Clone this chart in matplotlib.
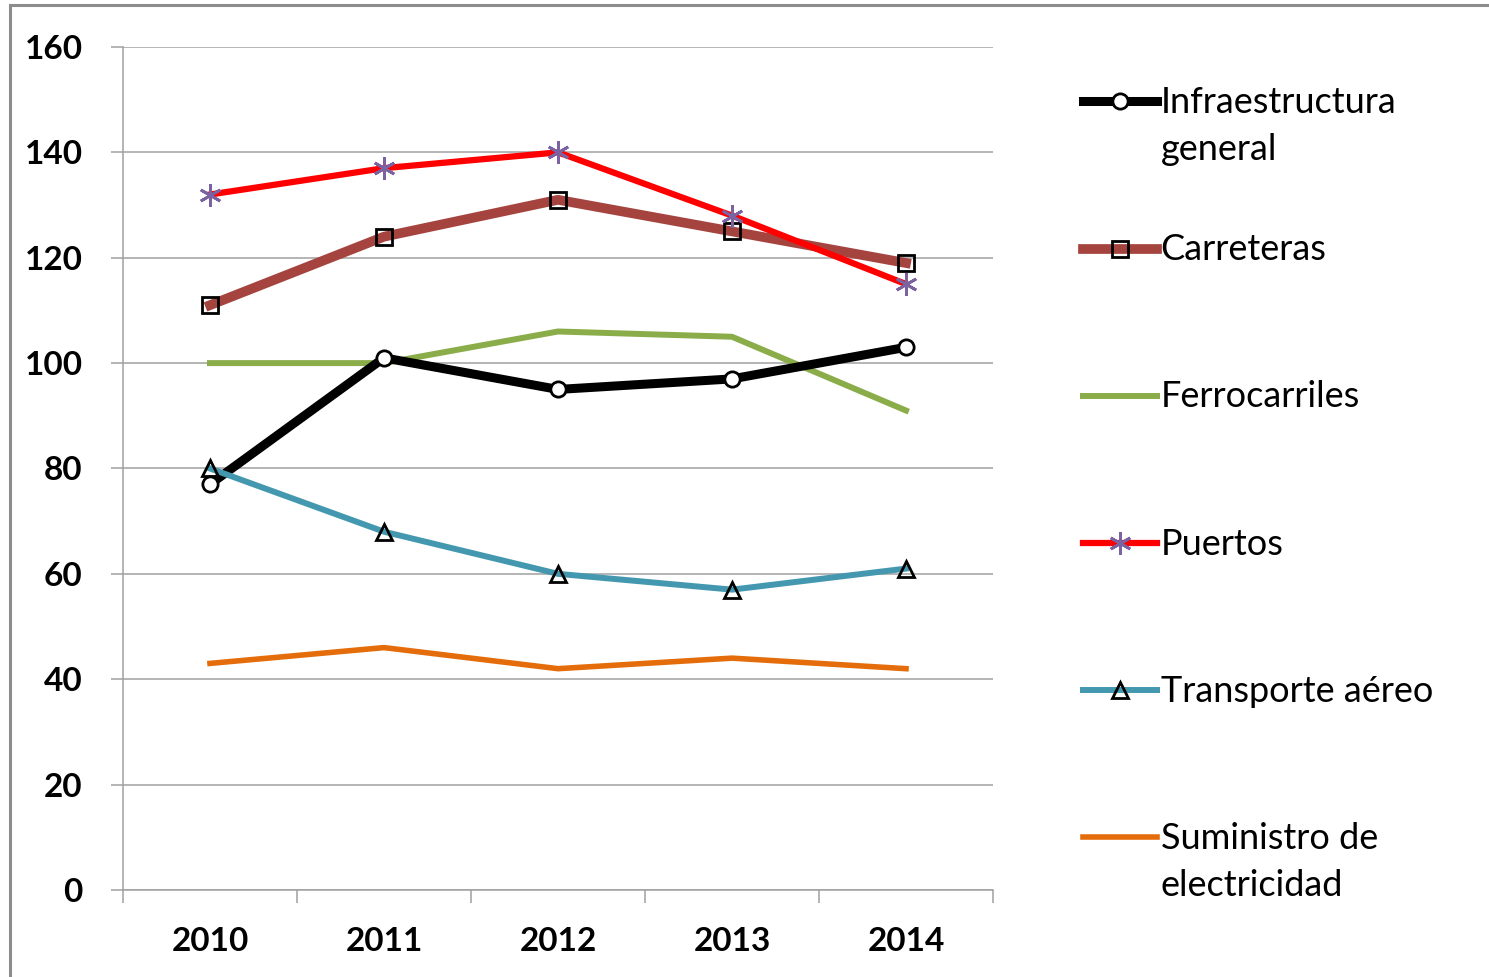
import matplotlib
matplotlib.use("Agg")
import matplotlib.pyplot as plt
from matplotlib.patches import Rectangle

# datos
years = ["2010", "2011", "2012", "2013", "2014"]
infraestructura = [77, 101, 95, 97, 103]
carreteras = [111, 124, 131, 125, 119]
ferrocarriles = [100, 100, 106, 105, 91]
puertos = [132, 137, 140, 128, 115]
transporte_aereo = [80, 68, 60, 57, 61]
suministro = [43, 46, 42, 44, 42]
yticks = [0, 20, 40, 60, 80, 100, 120, 140, 160]

plt.rcParams['font.family'] = ['Lato', 'DejaVu Sans']

fig = plt.figure(figsize=(14.89, 9.77), dpi=100)
ax = fig.add_axes([0.0826, 0.0891, 0.5843, 0.8628])
x = range(len(years))

ax.plot(x, infraestructura, color="black", lw=6.5, marker="o", ms=11,
        mfc="white", mec="black", mew=2, label="Infraestructura\ngeneral", zorder=5)
ax.plot(x, carreteras, color="#A5443F", lw=7, marker="s", ms=12,
        mfc="none", mec="black", mew=2, label="Carreteras\n", zorder=4)
ax.plot(x, ferrocarriles, color="#8AAD4A", lw=4.3, label="Ferrocarriles\n", zorder=3)
ax.plot(x, puertos, color="#FF0000", lw=4.5, marker=(6, 2, 0), ms=16,
        mec="#7B62A0", mew=2, label="Puertos\n", zorder=4)
ax.plot(x, transporte_aereo, color="#4398AF", lw=4.3, marker="^", ms=11,
        mfc="none", mec="black", mew=2, label="Transporte aéreo\n", zorder=6)
ax.plot(x, suministro, color="#E46C0A", lw=4, label="Suministro de\nelectricidad", zorder=3)

ax.set_xlim(-0.5, len(years) - 0.5)
ax.set_ylim(0, 160)
ax.set_yticks(yticks)
ax.set_xticks(list(x))
ax.set_xticklabels(years)
ax.set_xticks([i - 0.5 for i in range(len(years) + 1)], minor=True)
ax.grid(axis="y", color="#A0A0A0", lw=1.1)
ax.set_axisbelow(True)

for s in ["top", "right"]:
    ax.spines[s].set_visible(False)
for s in ["left", "bottom"]:
    ax.spines[s].set_color("#A0A0A0")
    ax.spines[s].set_linewidth(1.1)

ax.tick_params(axis="y", length=9, width=1.1, color="#A0A0A0", pad=20, labelsize=24)
ax.tick_params(axis="x", which="major", length=0, pad=27, labelsize=24)
ax.tick_params(axis="x", which="minor", length=9, width=1.1, color="#A0A0A0")
for lab in ax.get_xticklabels() + ax.get_yticklabels():
    lab.set_fontweight("bold")

leg = fig.legend(loc="upper left", bbox_to_anchor=(1083 / 1489, 1 - 86 / 977),
                 frameon=False, fontsize=26, handlelength=2.05, handleheight=1.2,
                 handletextpad=0.1, labelspacing=1.86, borderpad=0, borderaxespad=0)
for t in leg.get_texts():
    t.set_linespacing(1.52)
for row in leg._legend_handle_box.get_children()[0].get_children():
    row.align = "top"

fig.add_artist(Rectangle((10 / 1489, -0.1), 1.2, 1.1 - 5 / 977,
                         transform=fig.transFigure, fill=False,
                         edgecolor="#8C8C8C", lw=2.2))

fig.savefig("out.png", dpi=100)
